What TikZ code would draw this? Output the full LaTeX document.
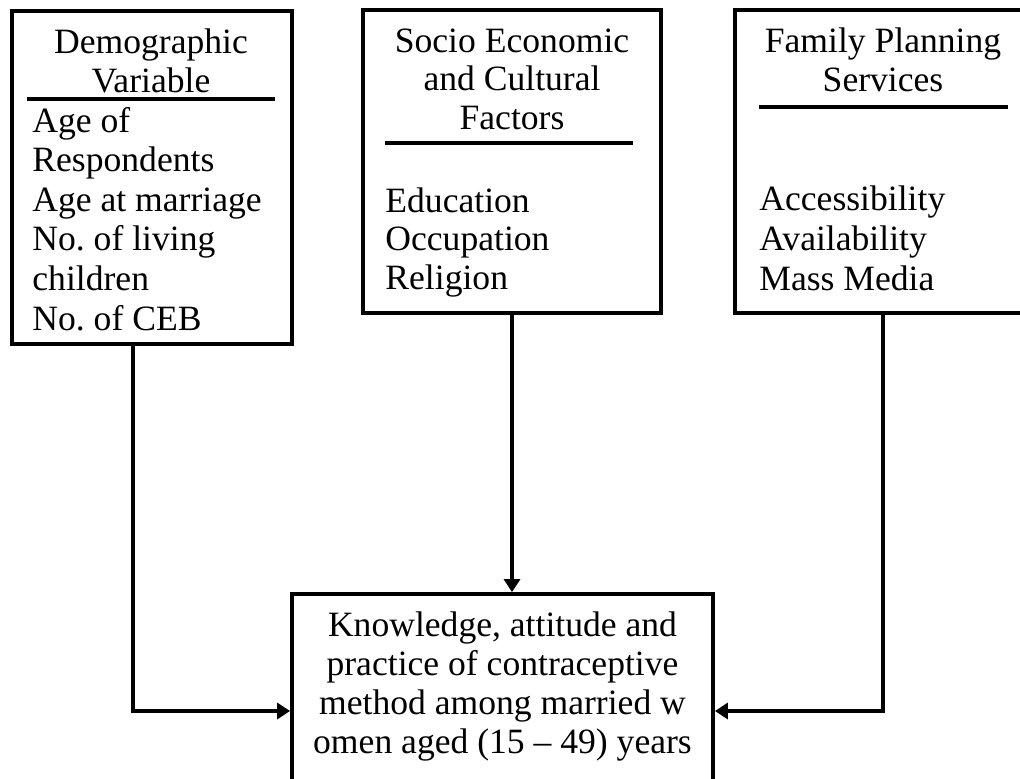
\documentclass[tikz,border=0pt]{standalone}
\usepackage{fontspec}
\setmainfont{Liberation Serif}
\usepackage{tikz}
\usetikzlibrary{arrows.meta}
\usetikzlibrary{positioning}
\frenchspacing

\begin{document}
\begin{tikzpicture}[x=0.5pt,y=-0.5pt]
\tikzstyle{every node}=[inner sep=0pt,font=\fontsize{17.8}{20}\selectfont]
\tikzstyle{block}=[draw,rectangle,line width=1.9pt]
\tikzstyle{head}=[anchor=base]
\tikzstyle{body}=[anchor=base west]
\tikzstyle{rule}=[line width=1.9pt]
\tikzstyle{link}=[line width=1.9pt,-{Triangle[length=6.5pt,width=8pt]}]

\useasboundingbox (0,0) rectangle (1020,778);
\clip (0,0) rectangle (1020,778);

% the three factor boxes
\node[block,minimum width=140pt,minimum height=166.5pt] (demo) at (152,177.5) {};
\node[block,minimum width=149pt,minimum height=151.5pt] (socio) at (512,161.5) {};
\node[block,minimum width=148pt,minimum height=151.5pt] (fps) at (883,161.5) {};
% outcome box
\node[block,minimum width=210.5pt,minimum height=118pt] (kap) at (502.5,712) {};

% Demographic Variable
\node[head] (demo-h1) at (151,53) {Demographic};
\node[head] (demo-h2) at (151,92) {Variable};
\draw[rule] (27,99) coordinate (demo-r1) -- (275,99) coordinate (demo-r2);
\foreach \t [count=\i] in {Age of,Respondents,Age at marriage,No. of living,children,No. of CEB}
	\node[body] (demo-l\i) at (32,{132+39.6*(\i-1)}) {\t};

% Socio Economic and Cultural Factors
\foreach \t [count=\i] in {Socio Economic,and Cultural,Factors}
	\node[head] (socio-h\i) at (512,{52+38.5*(\i-1)}) {\t};
\draw[rule] (385,143) coordinate (socio-r1) -- (633,143) coordinate (socio-r2);
\foreach \t [count=\i] in {Education,Occupation,Religion}
	\node[body] (socio-l\i) at (385,{212+38.5*(\i-1)}) {\t};

% Family Planning Services
\node[head] (fps-h1) at (883,52) {Family Planning};
\node[head] (fps-h2) at (883,91) {Services};
\draw[rule] (759,107) coordinate (fps-r1) -- (1008,107) coordinate (fps-r2);
\foreach \t [count=\i] in {Accessibility,Availability,Mass Media}
	\node[body] (fps-l\i) at (759,{210+40*(\i-1)}) {\t};

% Knowledge, attitude and practice
\foreach \t [count=\i] in {{Knowledge, attitude and},practice of contraceptive,method among married w,omen aged (15 -- 49) years}
	\node[head] (kap-l\i) at (502.5,{636+39*(\i-1)}) {\t};

% connectors
\coordinate (join) at (133,711);
\draw[link] (demo.south -| join) -- (join) -- (kap.west |- join);
\draw[link] (socio.south) -- (socio.south |- kap.north);
\draw[link] (fps.south) |- (kap.east |- join);
\end{tikzpicture}
\end{document}
